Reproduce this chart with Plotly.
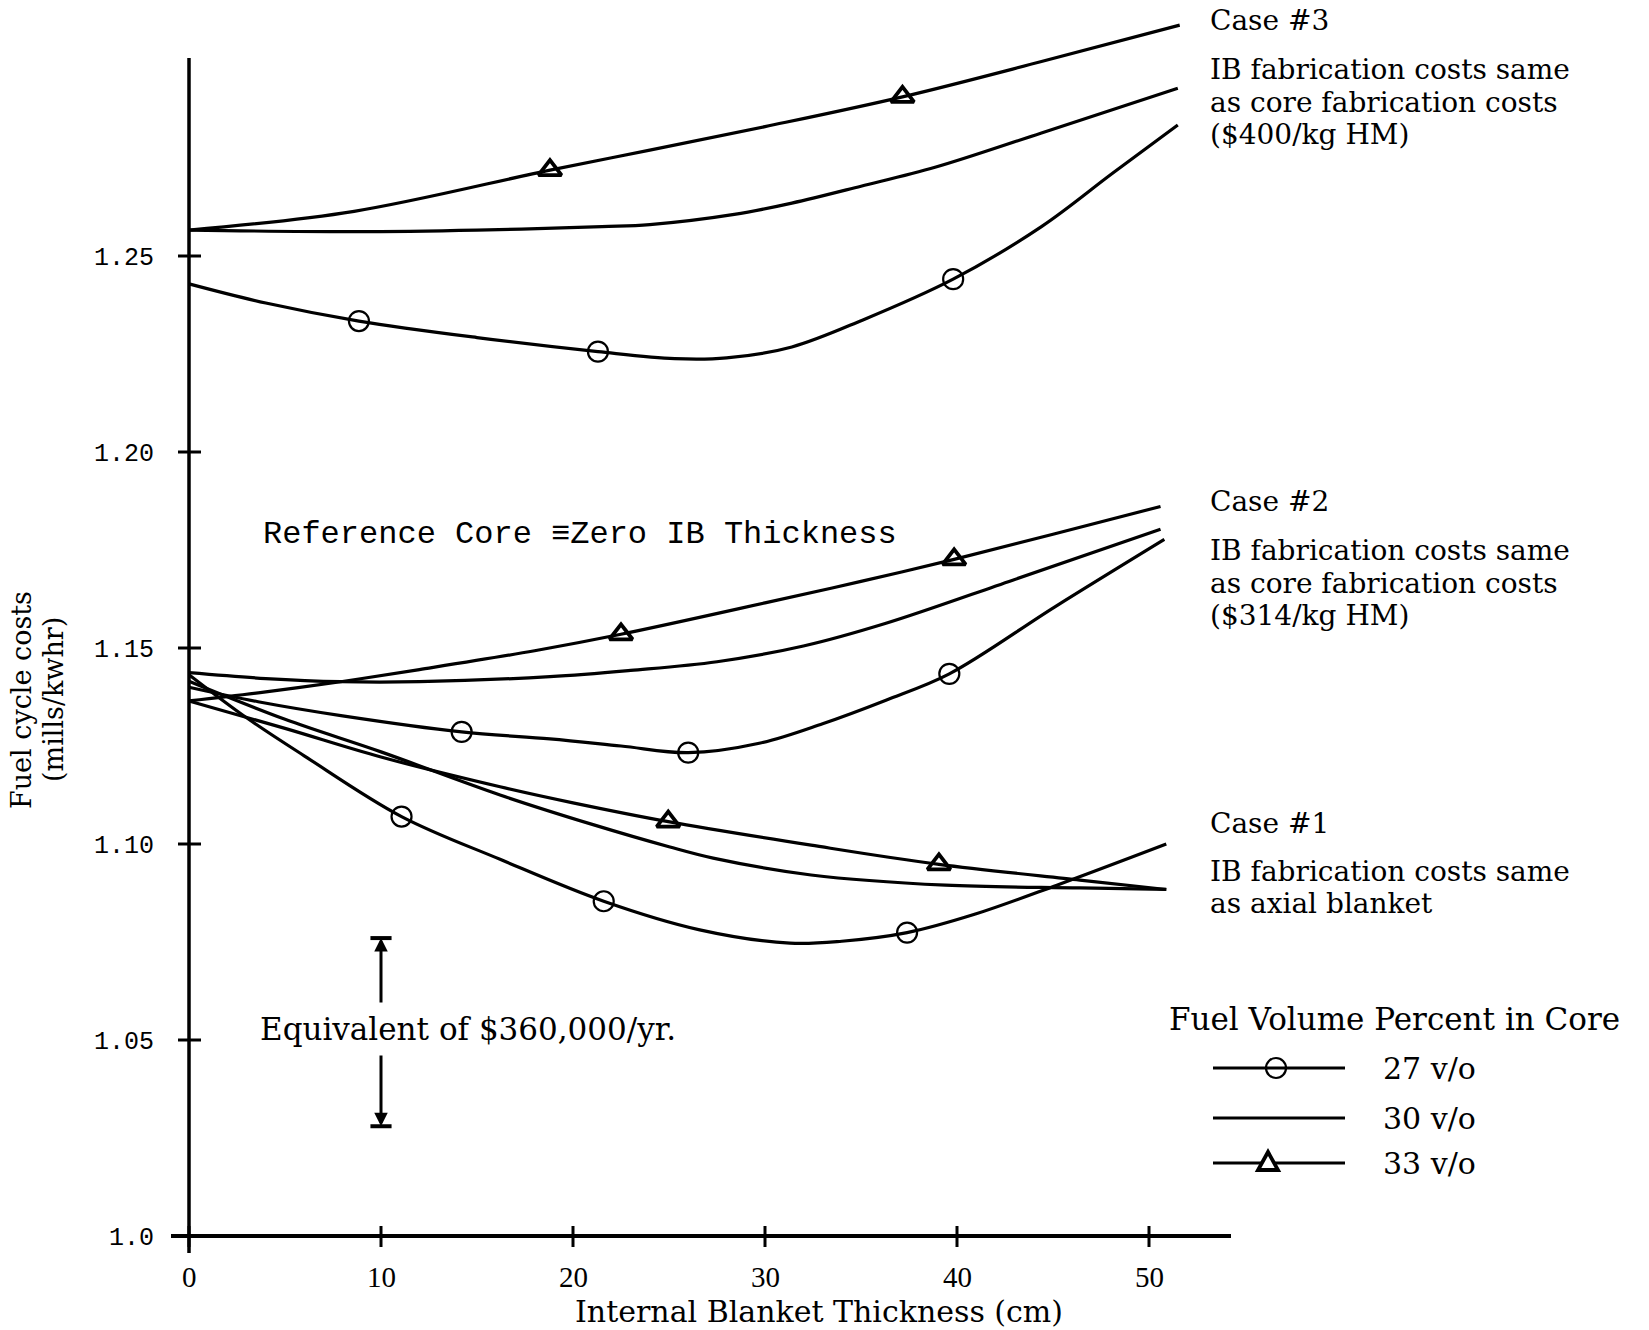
import plotly.graph_objects as go

# ---------------------------------------------------------------------------
# Fuel cycle cost (mills/kwhr) vs internal blanket thickness (cm)
# three fabrication-cost cases, three fuel volume fractions each
# ---------------------------------------------------------------------------

# Case #3 : IB fabrication costs same as core fabrication costs ($400/kg HM)
c3_27_x = [0, 4, 8.85, 15, 21.3, 25.3, 28, 31.4, 35.1, 39.8, 44.4, 48.1, 51.5]
c3_27_y = [1.2429, 1.2380, 1.2334, 1.2292, 1.2256, 1.2238, 1.2240, 1.2268, 1.2337, 1.2441, 1.2575, 1.2711, 1.2834]
c3_27_marks = [2, 4, 9]

c3_30_x = [0, 8.6, 15, 21.5, 24, 28.4, 31.4, 35, 38.9, 44.4, 51.5]
c3_30_y = [1.2566, 1.2562, 1.2566, 1.2575, 1.2580, 1.2606, 1.2635, 1.2678, 1.2727, 1.2814, 1.2928]

c3_33_x = [0, 8.6, 18.8, 24, 30, 37.16, 44.4, 51.6]
c3_33_y = [1.2566, 1.2614, 1.2719, 1.2770, 1.2830, 1.2906, 1.2996, 1.3089]
c3_33_marks = [2, 5]

# Case #2 : IB fabrication costs same as core fabrication costs ($314/kg HM)
c2_27_x = [0, 3.6, 8, 14.2, 18.8, 22.5, 26, 29.7, 33, 36.3, 39.6, 45.1, 50.8]
c2_27_y = [1.1400, 1.1363, 1.1327, 1.1286, 1.1268, 1.1250, 1.1233, 1.1257, 1.1307, 1.1367, 1.1434, 1.1605, 1.1777]
c2_27_marks = [3, 6, 10]

c2_30_x = [0, 4, 7.9, 12, 18.8, 23, 27.5, 32, 36.3, 42.9, 50.6]
c2_30_y = [1.1437, 1.1422, 1.1414, 1.1414, 1.1427, 1.1443, 1.1465, 1.1505, 1.1563, 1.1673, 1.1803]

c2_33_x = [0, 4, 7.9, 12, 18, 22.5, 30, 35, 39.85, 45, 50.6]
c2_33_y = [1.1365, 1.1388, 1.1414, 1.1445, 1.1493, 1.1535, 1.1615, 1.1670, 1.1726, 1.1790, 1.1861]
c2_33_marks = [5, 8]

# Case #1 : IB fabrication costs same as axial blanket
c1_27_x = [0, 3, 6, 11.07, 16.2, 21.6, 26.6, 31.3, 34, 37.4, 41, 45.2, 50.9]
c1_27_y = [1.1432, 1.1322, 1.1225, 1.1070, 1.0961, 1.0854, 1.0781, 1.0747, 1.0752, 1.0774, 1.0822, 1.0895, 1.1000]
c1_27_marks = [3, 5, 9]

c1_30_x = [0, 5, 10, 16.2, 21, 25, 27.3, 32.4, 39.4, 46.4, 50.9]
c1_30_y = [1.1415, 1.1318, 1.1235, 1.1125, 1.1050, 1.0993, 1.0964, 1.0921, 1.0895, 1.0888, 1.0884]

c1_33_x = [0, 5, 10, 16.2, 20, 24.96, 32.4, 39.06, 46.4, 50.9]
c1_33_y = [1.1365, 1.1295, 1.1222, 1.1146, 1.1105, 1.1057, 1.0997, 1.0948, 1.0908, 1.0884]
c1_33_marks = [5, 7]

# axis ticks
x_ticks = [0, 10, 20, 30, 40, 50]
x_ticktext = ["0", "10", "20", "30", "40", "50"]
y_ticks = [1.0, 1.05, 1.10, 1.15, 1.20, 1.25]
y_ticktext = ["1.0", "1.05", "1.10", "1.15", "1.20", "1.25"]

# cost bar equivalent to $360,000/yr
equiv_x = 10.0
equiv_top = 1.076
equiv_bottom = 1.028

legend_labels = ["27 v/o", "30 v/o", "33 v/o"]

# ---------------------------------------------------------------------------
# page geometry (pixels)
W, H = 1649, 1330
PLOT_L, PLOT_R, PLOT_T, PLOT_B = 165, 1240, 10, 1256
X0_PX, CM_PX = 189.0, 19.2          # pixel of x = 0 and pixels per cm
Y1_PX, UNIT_PX = 1236.0, 3920.0     # pixel of y = 1.0 and pixels per unit

x_range = [(PLOT_L - X0_PX) / CM_PX, (PLOT_R - X0_PX) / CM_PX]
y_range = [1 + (Y1_PX - PLOT_B) / UNIT_PX, 1 + (Y1_PX - PLOT_T) / UNIT_PX]


def px_x(p):
    return (p - PLOT_L) / (PLOT_R - PLOT_L)


def px_y(p):
    return (PLOT_B - p) / (PLOT_B - PLOT_T)


def dx(p):
    return (p - X0_PX) / CM_PX


def dy(p):
    return 1 + (Y1_PX - p) / UNIT_PX


INK = "black"
SERIF = "DejaVu Serif"
TICK_FONT = "Liberation Serif"
MONO = "Liberation Mono, DejaVu Sans Mono, monospace"

CIRCLE = dict(symbol="circle-open", size=20, color=INK, line=dict(width=2.2, color=INK))
TRIANGLE = dict(symbol="triangle-up-open", size=20, color=INK, line=dict(width=3.8, color=INK))

fig = go.Figure()

series = [
    (c3_27_x, c3_27_y, c3_27_marks, CIRCLE),
    (c3_30_x, c3_30_y, None, None),
    (c3_33_x, c3_33_y, c3_33_marks, TRIANGLE),
    (c2_27_x, c2_27_y, c2_27_marks, CIRCLE),
    (c2_30_x, c2_30_y, None, None),
    (c2_33_x, c2_33_y, c2_33_marks, TRIANGLE),
    (c1_27_x, c1_27_y, c1_27_marks, CIRCLE),
    (c1_30_x, c1_30_y, None, None),
    (c1_33_x, c1_33_y, c1_33_marks, TRIANGLE),
]

for xs, ys, marks, style in series:
    fig.add_trace(go.Scatter(
        x=xs, y=ys, mode="lines",
        line=dict(color=INK, width=3.2, shape="spline", smoothing=1.0),
        showlegend=False, hoverinfo="skip",
    ))
    if marks:
        fig.add_trace(go.Scatter(
            x=[xs[i] for i in marks], y=[ys[i] for i in marks],
            mode="markers", marker=style, showlegend=False, hoverinfo="skip",
        ))

shapes = []
# axes crossing at the origin
shapes.append(dict(type="line", xref="x", yref="y", x0=dx(171), x1=dx(1231), y0=1.0, y1=1.0,
                   line=dict(color=INK, width=4)))
shapes.append(dict(type="line", xref="x", yref="y", x0=0, x1=0, y0=dy(1253), y1=dy(58),
                   line=dict(color=INK, width=3.5)))
for t in x_ticks:
    shapes.append(dict(type="line", xref="x", yref="y", x0=t, x1=t, y0=dy(1226), y1=dy(1247),
                       line=dict(color=INK, width=3)))
for t in y_ticks:
    shapes.append(dict(type="line", xref="x", yref="y", x0=dx(178), x1=dx(201), y0=t, y1=t,
                       line=dict(color=INK, width=3)))

# end caps of the $360,000/yr bar
for yv in (equiv_top, equiv_bottom):
    shapes.append(dict(type="line", xref="x", yref="y", x0=equiv_x - 0.55, x1=equiv_x + 0.55,
                       y0=yv, y1=yv, line=dict(color=INK, width=4)))

# legend: line samples and symbols
legend_rows = [1068, 1118, 1163]
for row in legend_rows:
    shapes.append(dict(type="line", xref="paper", yref="paper", x0=px_x(1213), x1=px_x(1345),
                       y0=px_y(row), y1=px_y(row), line=dict(color=INK, width=3)))
shapes.append(dict(type="circle", xref="paper", yref="paper",
                   xsizemode="pixel", ysizemode="pixel",
                   xanchor=px_x(1276), yanchor=px_y(legend_rows[0]),
                   x0=-10, x1=10, y0=-10, y1=10, line=dict(color=INK, width=2.2)))
shapes.append(dict(type="path", xref="paper", yref="paper",
                   xsizemode="pixel", ysizemode="pixel",
                   xanchor=px_x(1268), yanchor=px_y(legend_rows[2]),
                   path="M -10,-7 L 10,-7 L 0,11 Z", fillcolor="white",
                   line=dict(color=INK, width=3.8)))

annotations = []


def text(x, y, s, size, family=SERIF, xanchor="left", yanchor="middle", angle=0, align="left"):
    annotations.append(dict(
        x=px_x(x), y=px_y(y), xref="paper", yref="paper", text=s, showarrow=False,
        xanchor=xanchor, yanchor=yanchor, textangle=angle, align=align,
        font=dict(family=family, size=size, color=INK),
    ))


# case descriptions, one line at a time
case_blocks = [
    (21, "Case #3", [69, 102, 135],
     ["IB fabrication costs same", "as core fabrication costs", "($400/kg HM)"]),
    (502, "Case #2", [550, 583, 615],
     ["IB fabrication costs same", "as core fabrication costs", "($314/kg HM)"]),
    (823, "Case #1", [871, 903],
     ["IB fabrication costs same", "as axial blanket"]),
]
for ty, title, rows, lines in case_blocks:
    text(1208, ty, title, 28)
    for ry, line in zip(rows, lines):
        text(1208, ry, line, 28)

# legend texts
text(1394, 1019, "Fuel Volume Percent in Core", 31, xanchor="center")
for row, lab in zip(legend_rows, legend_labels):
    text(1381, row, lab, 30)

# in-plot notes
text(580, 534, "Reference Core \u2261Zero IB Thickness", 32, family=MONO, xanchor="center")
text(468, 1029, "Equivalent of $360,000/yr.", 31, xanchor="center")

# x tick labels below the axis
for t, lab in zip(x_ticks, x_ticktext):
    annotations.append(dict(
        x=t, y=px_y(1277), xref="x", yref="paper", text=lab, showarrow=False,
        xanchor="center", yanchor="middle",
        font=dict(family=TICK_FONT, size=29, color=INK),
    ))

# axis titles
text(819, 1311, "Internal Blanket Thickness (cm)", 30, xanchor="center")
text(21, 700, "Fuel cycle costs", 27, xanchor="center", angle=-90)
text(53, 700, "(mills/kwhr)", 27, xanchor="center", angle=-90)

# arrows of the $360,000/yr bar
for tip, tail in ((equiv_top, dy(1004)), (equiv_bottom, dy(1054))):
    annotations.append(dict(
        x=equiv_x, y=tip, ax=equiv_x, ay=tail, xref="x", yref="y", axref="x", ayref="y",
        text="", showarrow=True, arrowhead=2, arrowsize=0.9, arrowwidth=3, arrowcolor=INK,
    ))

fig.update_layout(
    width=W, height=H,
    margin=dict(l=PLOT_L, r=W - PLOT_R, t=PLOT_T, b=H - PLOT_B, autoexpand=False),
    paper_bgcolor="white", plot_bgcolor="white",
    shapes=shapes, annotations=annotations,
    xaxis=dict(range=x_range, showgrid=False, zeroline=False, showline=False, ticks="",
               showticklabels=False),
    yaxis=dict(range=y_range, showgrid=False, zeroline=False, showline=False, ticks="",
               tickvals=y_ticks, ticktext=y_ticktext, ticklabelstandoff=10,
               tickfont=dict(family=MONO, size=25, color=INK)),
)

fig.write_html("out.html")
